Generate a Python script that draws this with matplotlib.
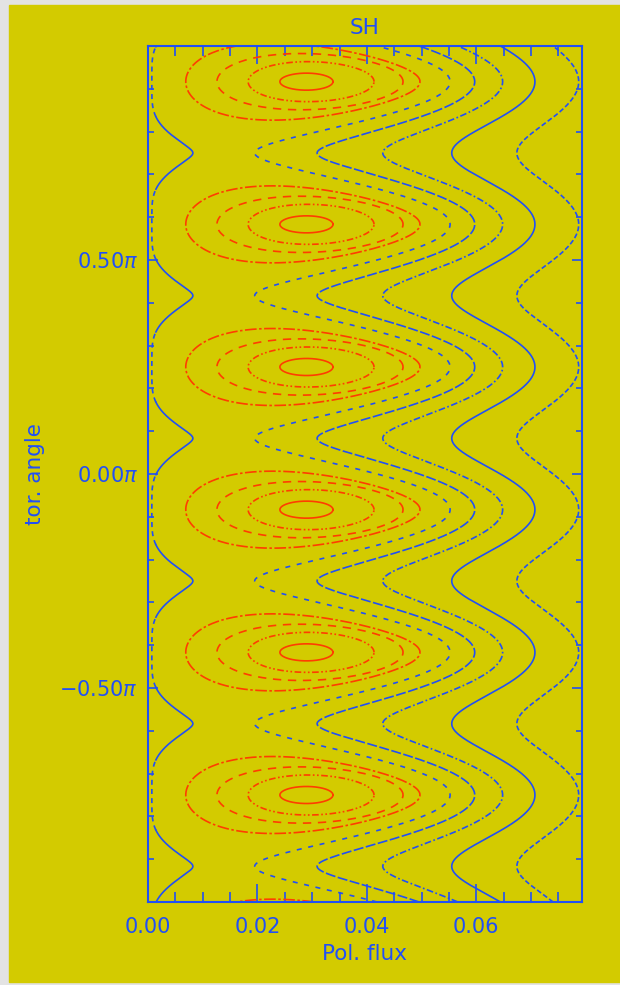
import numpy as np
import matplotlib
matplotlib.use("Agg")
import matplotlib.pyplot as plt
from matplotlib.patches import Rectangle
from matplotlib.ticker import FixedLocator, MultipleLocator, FuncFormatter

BG = "#d3cb00"
BLUE = "#2150f5"
RED = "#ff3d00"

# O-points of the island chain, toroidal angle in units of pi
island_phi = [-1.0833, -0.75, -0.4167, -0.0833, 0.25, 0.5833, 0.9167]

# closed surfaces inside each island (red): flux extent and half height (pi units)
loop_left = [0.0241, 0.0183, 0.0126, 0.0069]
loop_right = [0.0338, 0.0413, 0.0466, 0.0497]
loop_half = [0.0199, 0.0467, 0.0654, 0.0864]
loop_skew = [0.0, 0.05, 0.1, 0.3]
loop_dash = ["-", (0, (4, 1.5, 1, 1.5, 1, 1.5)), (0, (5, 4)), (0, (7, 1.5, 1.5, 1.5))]

# open surfaces (blue): flux at the X-point angle and at the O-point angle,
# plus how round the turn at the X-point is and how fast it flattens out
open_tip = [0.0082, 0.0195, 0.0309, 0.0429, 0.0555, 0.0674]
open_crest = [0.0007, 0.0552, 0.0597, 0.0648, 0.0707, 0.0787]
open_round = [0.02, 0.1, 0.05, 0.1, 0.3, 0.3]
open_flat = [2.5, 1.0, 1.0, 1.0, 1.0, 1.0]
open_dash = ["-", (0, (3, 4)), (0, (6, 1.5)), (0, (4, 1.5, 1, 1.5)), "-", (0, (3, 1.5))]
# sparse stretch near the O-point angle (only the innermost surface)
open_far_dash = [(0, (3, 2.5)), None, None, None, None, None]

plt.rcParams["font.family"] = ["DejaVu Sans"]
plt.rcParams["mathtext.fontset"] = "dejavusans"

fig = plt.figure(figsize=(6.2, 9.85), dpi=100, facecolor="#e3e3e3")
fig.add_artist(Rectangle((9 / 620, 3 / 985), 1, 1 - 8 / 985,
                         transform=fig.transFigure, color=BG, zorder=0))

ax = fig.add_axes([148 / 620, 1 - 902 / 985, 434 / 620, 856 / 985])
ax.set_facecolor(BG)

phi = np.linspace(-np.pi, np.pi, 4001)
centres = np.array(island_phi) * np.pi
d_o = np.min(np.abs(phi[:, None] - centres[None, :]), axis=1)
# 1 at the O-point angle, 0 at the X-point angle, smooth through both
c = np.cos(3 * d_o) ** 2

for tip, crest, r, m, ls, far in zip(open_tip, open_crest, open_round,
                                     open_flat, open_dash, open_far_dash):
    cm = 1 - (1 - c) ** m
    prof = (np.sqrt(r + cm) - np.sqrt(r)) / (np.sqrt(1 + r) - np.sqrt(r))
    x = tip + (crest - tip) * prof
    if far is None:
        ax.plot(x, phi, color=BLUE, lw=1.2, ls=ls)
    else:
        near = prof < 0.9
        ax.plot(np.where(near | np.roll(near, 1) | np.roll(near, -1), x, np.nan),
                phi, color=BLUE, lw=1.2, ls=ls)
        ax.plot(np.where(~near, x, np.nan), phi, color=BLUE, lw=1.2, ls=far)

s = np.linspace(0, 2 * np.pi, 400)
for pc in centres:
    for xl, xr, h, sk, ls in zip(loop_left, loop_right, loop_half, loop_skew, loop_dash):
        xc, a = (xl + xr) / 2, (xr - xl) / 2
        x = xc + a * np.cos(s)
        y = pc + h * np.pi * np.sin(s) * (1 - sk * np.cos(s))
        ax.plot(x, y, color=RED, lw=1.2, ls=ls)

ax.set_xlim(0, 0.0793)
ax.set_ylim(-np.pi, np.pi)

ax.xaxis.set_major_locator(FixedLocator([0.0, 0.02, 0.04, 0.06]))
ax.xaxis.set_minor_locator(MultipleLocator(0.005))
ax.xaxis.set_major_formatter(FuncFormatter(lambda v, p: f"{v:.2f}"))
ax.yaxis.set_major_locator(FixedLocator([-0.5 * np.pi, 0.0, 0.5 * np.pi]))
ax.yaxis.set_minor_locator(MultipleLocator(0.1 * np.pi))


def pi_label(v, p):
    txt = f"{abs(v) / np.pi:.2f}" + r"$\pi$"
    return ("\u2212" + txt) if v < -1e-9 else txt


ax.yaxis.set_major_formatter(FuncFormatter(pi_label))

ax.tick_params(which="both", direction="in", top=True, right=True,
               color=BLUE, labelcolor=BLUE, labelsize=15, width=1.2)
ax.tick_params(axis="x", which="major", length=13, pad=11)
ax.tick_params(axis="x", which="minor", length=7)
ax.tick_params(axis="y", which="major", length=7.5, pad=7)
ax.tick_params(axis="y", which="minor", length=4)
for sp in ax.spines.values():
    sp.set_color(BLUE)
    sp.set_linewidth(1.5)

fig.text(365 / 620, 1 - 28 / 985, "SH", color=BLUE, fontsize=15.5,
         ha="center", va="center")
fig.text(365 / 620, 1 - 954 / 985, "Pol. flux", color=BLUE, fontsize=15.5,
         ha="center", va="center")
fig.text(35 / 620, 1 - 474 / 985, "tor. angle", color=BLUE, fontsize=15.5,
         ha="center", va="center", rotation=90)

fig.savefig("out.png", dpi=100, facecolor=fig.get_facecolor())
